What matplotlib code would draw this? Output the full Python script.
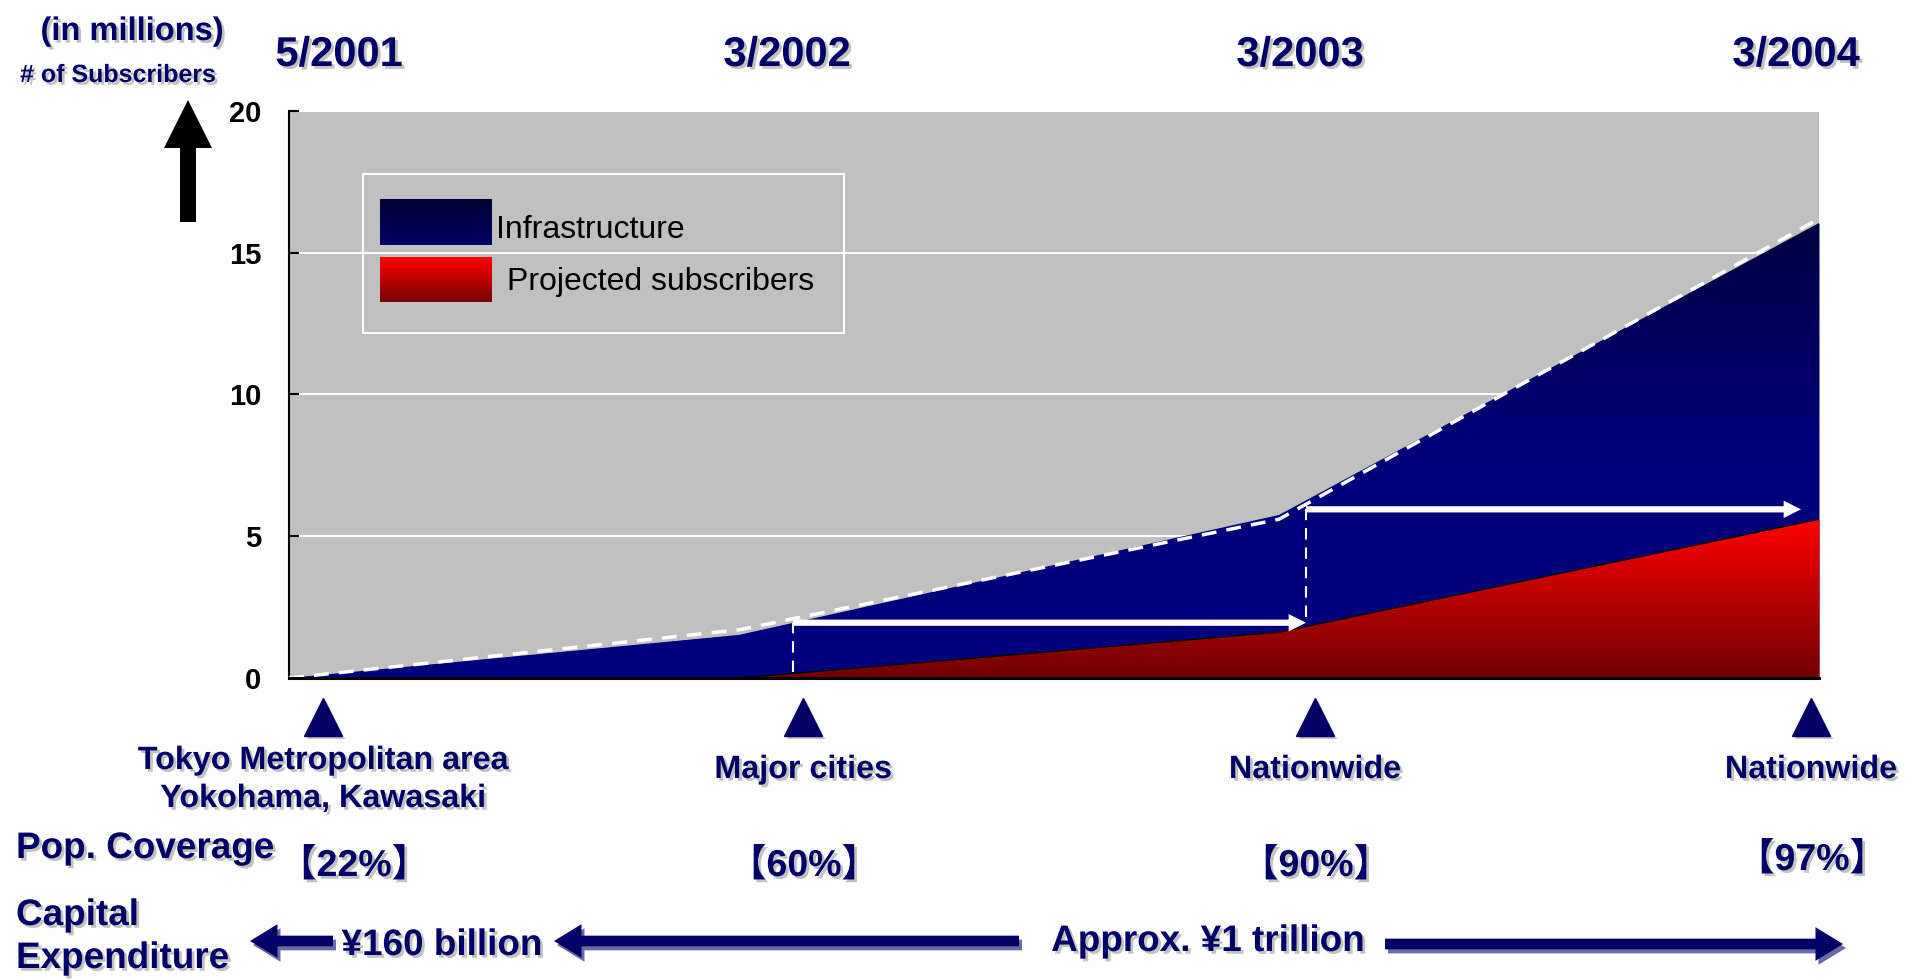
import numpy as np
import matplotlib
matplotlib.use('Agg')
import matplotlib.pyplot as plt
import matplotlib.patheffects as pe
from matplotlib import font_manager
from matplotlib.colors import LinearSegmentedColormap
from matplotlib.patches import Rectangle, FancyArrowPatch, FancyArrow

W, H = 1914, 980

# data: months since 5/2001, subscribers in millions
months = [0, 10, 22, 34]
infrastructure = [0, 1.52, 5.75, 16.05]
projected = [0, 0, 1.62, 5.6]
trend = [0, 1.7, 5.6, 16.2]
yticks = [0, 5, 10, 15, 20]

period_labels = ['5/2001', '3/2002', '3/2003', '3/2004']
area_labels = [['Tokyo Metropolitan area', 'Yokohama, Kawasaki'], ['Major cities'], ['Nationwide'], ['Nationwide']]
coverage = ['【22%】', '【60%】', '【90%】', '【97%】']

# white step arrows (from month, to month, level) and dashed drops (month, low, high)
step_arrows = [(11.2, 22.6, 1.95), (22.6, 33.6, 5.95)]
step_drops = [(11.2, 0.2, 1.95), (22.6, 2.15, 5.95)]

names = {f.name for f in font_manager.fontManager.ttflist}
NARROW = 'Liberation Sans Narrow' in names
NF = ['Liberation Sans Narrow' if NARROW else 'Liberation Sans', 'Noto Sans CJK JP']
k = 1.0 if NARROW else 0.83
NAVY = '#000066'
shadow = [pe.withSimplePatchShadow(offset=(2, -2), shadow_rgbFace='#9a9a9a', alpha=0.6)]

fig = plt.figure(figsize=(W / 100, H / 100), dpi=100)
ax = fig.add_axes([289 / W, 1 - 678 / H, 1530 / W, 567 / H])
ax.set_facecolor('#c0c0c0')

grad = np.linspace(0, 1, 256).reshape(-1, 1)
blue_cmap = LinearSegmentedColormap.from_list('b', [(0, '#000080'), (0.5, '#00007a'), (1, '#000042')])
red_cmap = LinearSegmentedColormap.from_list('r', ['#700000', '#ff0000'])

infra_poly = ax.fill_between(months, 0, infrastructure, color='#000080', lw=0, zorder=2)
im = ax.imshow(grad, extent=[0, 34, 0, max(infrastructure)], origin='lower', cmap=blue_cmap,
               aspect='auto', zorder=2.1)
im.set_clip_path(infra_poly.get_paths()[0], transform=ax.transData)

red_poly = ax.fill_between(months, 0, projected, color='#c00000', lw=0, zorder=3)
im2 = ax.imshow(grad, extent=[0, 34, 0, max(projected)], origin='lower', cmap=red_cmap,
                aspect='auto', zorder=3.1)
im2.set_clip_path(red_poly.get_paths()[0], transform=ax.transData)
ax.plot(months, projected, color='black', lw=1, zorder=3.5)

ax.plot(months, trend, color='white', lw=2.5, ls=(0, (4.3, 2.9)), zorder=4)

for m, lo, hi in step_drops:
    ax.plot([m, m], [lo, hi], color='white', lw=1.5, ls=(0, (5.5, 3.8)), zorder=4)
for a, b, lvl in step_arrows:
    ax.annotate('', xy=(b, lvl), xytext=(a, lvl),
                arrowprops=dict(arrowstyle='simple,head_length=1.25,head_width=1.25,tail_width=0.45',
                                fc='white', ec='none', lw=0, shrinkA=0, shrinkB=0, mutation_scale=10),
                zorder=5)

ax.set_xlim(0, 34)
ax.set_ylim(0, 20)
ax.set_xticks([])
ax.set_yticks(yticks)
ax.set_yticklabels([str(v) for v in yticks], fontsize=21, fontweight='bold', family='Liberation Sans')
ax.tick_params(axis='y', direction='in', length=7, width=1.5, pad=20, colors='black')
ax.yaxis.grid(True, color='white', lw=1.5)
ax.set_axisbelow(True)
for s in ['top', 'right']:
    ax.spines[s].set_visible(False)
ax.spines['left'].set_linewidth(1.5)
ax.spines['bottom'].set_linewidth(2.2)
ax.spines['bottom'].set_zorder(6)

# overlay in pixel coordinates for the annotations around the chart
ov = fig.add_axes([0, 0, 1, 1], zorder=10)
ov.axis('off')

# legend
ov.add_patch(Rectangle((363, 174), 481, 159, fill=False, ec='white', lw=1.5))
leg_blue = LinearSegmentedColormap.from_list('lb', ['#000033', '#000066'])
leg_red = LinearSegmentedColormap.from_list('lr', ['#ff0000', '#780000'])
ov.imshow(grad, extent=[380, 492, 245, 199], origin='upper', cmap=leg_blue, aspect='auto')
ov.imshow(grad, extent=[380, 492, 302, 257], origin='upper', cmap=leg_red, aspect='auto')
ov.text(496, 238, 'Infrastructure', fontsize=23, family='Liberation Sans', color='black', va='baseline')
ov.text(507, 290, 'Projected subscribers', fontsize=23, family='Liberation Sans', color='black', va='baseline')

# y axis caption and arrow
ov.text(132, 40, '(in millions)', fontsize=23.5, fontweight='bold', family='Liberation Sans',
        color=NAVY, ha='center', va='baseline', path_effects=shadow)
ov.text(118, 82, '# of Subscribers', fontsize=18, fontweight='bold', family='Liberation Sans',
        color=NAVY, ha='center', va='baseline', path_effects=shadow)
ov.add_patch(FancyArrow(188, 222, 0, -122, width=16, head_width=48, head_length=48,
                        length_includes_head=True, color='black', lw=0))

title_x = [339, 787, 1300, 1796]
col_x = [323, 803, 1315, 1811]
cov_x = [354, 804, 1316, 1812]
for x, lab in zip(title_x, period_labels):
    ov.text(x, 66, lab, fontsize=30, fontweight='bold', family='Liberation Sans', color=NAVY,
            ha='center', va='baseline', path_effects=shadow)

for x, lines in zip(col_x, area_labels):
    ov.plot(x, 717, marker='^', ms=27, color=NAVY, mec=NAVY, path_effects=shadow)
    base = [769, 807] if len(lines) == 2 else [778]
    for y, t in zip(base, lines):
        ov.text(x, y, t, fontsize=28 * k, fontweight='bold', family=NF, color=NAVY,
                ha='center', va='baseline', path_effects=shadow)

cov_y = [876, 876, 876, 870]
for x, y, t in zip(cov_x, cov_y, coverage):
    ov.text(x, y, t, fontsize=27, fontweight='bold', family=NF, color=NAVY,
            ha='center', va='baseline', path_effects=shadow)

ov.text(16, 858, 'Pop. Coverage', fontsize=32 * k, fontweight='bold', family=NF, color=NAVY,
        ha='left', va='baseline', path_effects=shadow)
ov.text(16, 925, 'Capital', fontsize=32 * k, fontweight='bold', family=NF, color=NAVY,
        ha='left', va='baseline', path_effects=shadow)
ov.text(16, 968, 'Expenditure', fontsize=32 * k, fontweight='bold', family=NF, color=NAVY,
        ha='left', va='baseline', path_effects=shadow)
ov.text(442, 955, '¥160 billion', fontsize=32 * k, fontweight='bold', family=NF, color=NAVY,
        ha='center', va='baseline', path_effects=shadow)
ov.text(1208, 951, 'Approx. ¥1 trillion', fontsize=32 * k, fontweight='bold', family=NF, color=NAVY,
        ha='center', va='baseline', path_effects=shadow)

# capital expenditure arrows (tail, head, y)
for xa, xb, y in [(333, 250, 941), (1019, 554, 941), (1385, 1843, 944)]:
    for dx, dy, c in [(3, 4, '#6a6aa8'), (0, 0, NAVY)]:
        ov.add_patch(FancyArrowPatch((xa + dx, y + dy), (xb + dx, y + dy),
                                     arrowstyle='simple,head_length=0.9,head_width=1.1,tail_width=0.35',
                                     mutation_scale=22, fc=c, ec='none', lw=0, shrinkA=0, shrinkB=0))

ov.set_xlim(0, W)
ov.set_ylim(H, 0)

fig.savefig('out.png', dpi=100)
